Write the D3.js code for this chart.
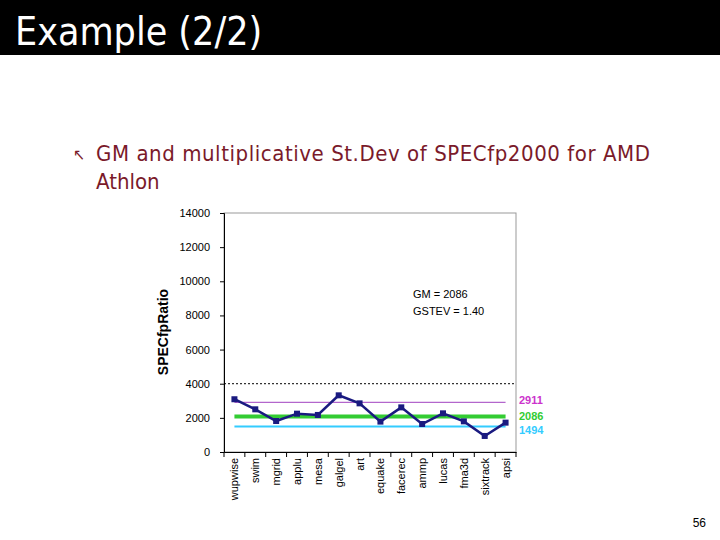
<!DOCTYPE html>
<html><head><meta charset="utf-8">
<script src="https://cdn.jsdelivr.net/npm/d3@7"></script>
<style>body{margin:0;background:#fff}</style>
</head><body>
<svg id="c" width="720" height="540"></svg>
<script>
// données
var benchmarks = ["wupwise","swim","mgrid","applu","mesa","galgel","art","equake","facerec","ammp","lucas","fma3d","sixtrack","apsi"];
var ratios = [3090,2500,1815,2245,2170,3320,2850,1780,2615,1640,2265,1795,940,1720];
var refLines = [
  {v: 2911, color: "#a040c0", text: "#cc33cc", w: 1, dy: 2},
  {v: 2086, color: "#33cc33", text: "#33cc33", w: 4, dy: 4},
  {v: 1494, color: "#33ccff", text: "#33ccff", w: 2, dy: 8}
];
var yTicks = [0,2000,4000,6000,8000,10000,12000,14000];

var svg = d3.select("#c");
svg.append("rect").attr("width",720).attr("height",55).attr("fill","#000");
svg.append("text").attr("x",15).attr("y",45).attr("fill","#fff")
  .attr("font-family","DejaVu Sans Condensed, sans-serif").attr("font-size",39)
  .text("Example (2/2)");
var bul = svg.append("g").attr("fill","#7a1a2a").attr("font-family","DejaVu Sans Condensed, sans-serif").attr("font-size",22);
bul.append("text").attr("x",73).attr("y",160).attr("font-size",16).text("↖");
bul.append("text").attr("x",96).attr("y",161).attr("textLength",554).text("GM and multiplicative St.Dev of SPECfp2000 for AMD");
bul.append("text").attr("x",96).attr("y",189).text("Athlon");

var L = 224, R = 516, T = 213, B = 452;
var x = d3.scaleBand().domain(benchmarks).range([L,R]);
var y = d3.scaleLinear().domain([0,14000]).range([B,T]);
var f = "Liberation Sans, Arial, sans-serif";

svg.append("rect").attr("x",L).attr("y",T).attr("width",R-L).attr("height",B-T)
  .attr("fill","none").attr("stroke","#999");
var ya = svg.append("g").attr("transform","translate("+L+",0)")
  .call(d3.axisLeft(y).tickValues(yTicks).tickSize(4).tickPadding(10).tickFormat(d3.format("d")));
ya.selectAll("text").attr("font-family",f).attr("font-size",11).attr("fill","#000");
ya.selectAll("line,path").attr("stroke","#000");
var xa = svg.append("g").attr("transform","translate(0,"+B+")")
  .call(d3.axisBottom(x).tickSize(0).tickFormat(""));
xa.select("path").attr("stroke","#000");
xa.selectAll(".div").data(d3.range(benchmarks.length+1)).enter().append("line")
  .attr("x1",function(i){return L+i*x.step();}).attr("x2",function(i){return L+i*x.step();})
  .attr("y1",0).attr("y2",5).attr("stroke","#000");
svg.append("g").selectAll("text").data(benchmarks).enter().append("text")
  .attr("transform",function(d){return "translate("+(x(d)+x.bandwidth()/2+4)+","+(B+6)+") rotate(-90)";})
  .attr("text-anchor","end").attr("font-family",f).attr("font-size",11).text(function(d){return d;});
svg.append("text").attr("transform","translate(168,332) rotate(-90)")
  .attr("text-anchor","middle").attr("font-family",f).attr("font-size",14).attr("font-weight","bold")
  .text("SPECfpRatio");

svg.append("line").attr("x1",L).attr("x2",R).attr("y1",y(4000)).attr("y2",y(4000))
  .attr("stroke","#000").attr("stroke-dasharray","2,2");

var cx0 = x(benchmarks[0])+x.bandwidth()/2, cx1 = x(benchmarks[benchmarks.length-1])+x.bandwidth()/2;
refLines.forEach(function(r){
  svg.append("line").attr("x1",cx0).attr("x2",cx1).attr("y1",y(r.v)).attr("y2",y(r.v))
    .attr("stroke",r.color).attr("stroke-width",r.w);
  svg.append("text").attr("x",519).attr("y",y(r.v)+r.dy).attr("fill",r.text)
    .attr("font-family",f).attr("font-size",11).attr("font-weight","bold").text(d3.format("d")(r.v));
});

var line = d3.line().x(function(d,i){return x(benchmarks[i])+x.bandwidth()/2;}).y(function(d){return y(d);});
svg.append("path").datum(ratios).attr("d",line).attr("fill","none").attr("stroke","#1a1a80").attr("stroke-width",2.5);
svg.selectAll(".pt").data(ratios).enter().append("rect")
  .attr("x",function(d,i){return x(benchmarks[i])+x.bandwidth()/2-3;}).attr("y",function(d){return y(d)-3;})
  .attr("width",6).attr("height",6).attr("fill","#1a1a80");

svg.append("text").attr("x",413).attr("y",298).attr("font-family",f).attr("font-size",11).text("GM = 2086");
svg.append("text").attr("x",413).attr("y",315).attr("font-family",f).attr("font-size",11).text("GSTEV = 1.40");
svg.append("text").attr("x",706).attr("y",527).attr("text-anchor","end").attr("font-family",f).attr("font-size",12).text("56");
</script>
</body></html>
